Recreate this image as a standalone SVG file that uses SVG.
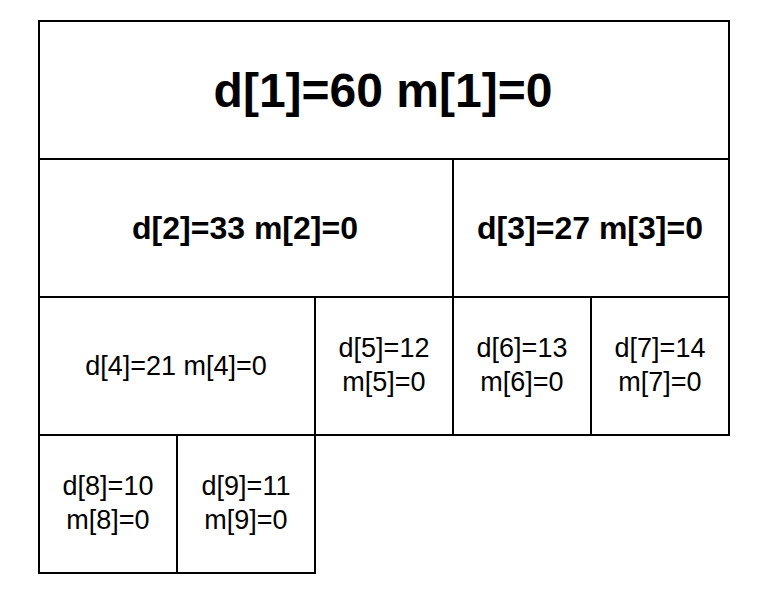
<svg xmlns="http://www.w3.org/2000/svg" width="763" height="608" viewBox="0 0 763 608">
<style>
.c{fill:#fff;stroke:#000;stroke-width:2}
text{font-family:"Liberation Sans",Arial,sans-serif;text-anchor:middle;fill:#000}
.t1{font-size:48px;font-weight:bold}
.t2{font-size:32px;font-weight:bold}
.t3{font-size:27px}
</style>
<rect width="763" height="608" fill="#fff"/>
<g id="n1"><rect class="c" x="39" y="21" width="690" height="138"/><text class="t1" x="383" y="107">d[1]=60 m[1]=0</text></g>
<g id="n2"><rect class="c" x="39" y="159" width="414" height="138"/><text class="t2" x="245" y="239">d[2]=33 m[2]=0</text></g>
<g id="n3"><rect class="c" x="453" y="159" width="276" height="138"/><text class="t2" x="590" y="239">d[3]=27 m[3]=0</text></g>
<g id="n4"><rect class="c" x="39" y="297" width="276" height="138"/><text class="t3" x="176" y="375">d[4]=21 m[4]=0</text></g>
<g id="n5"><rect class="c" x="315" y="297" width="138" height="138"/><text class="t3" x="384" y="357">d[5]=12</text><text class="t3" x="384" y="391">m[5]=0</text></g>
<g id="n6"><rect class="c" x="453" y="297" width="138" height="138"/><text class="t3" x="522" y="357">d[6]=13</text><text class="t3" x="522" y="391">m[6]=0</text></g>
<g id="n7"><rect class="c" x="591" y="297" width="138" height="138"/><text class="t3" x="660" y="357">d[7]=14</text><text class="t3" x="660" y="391">m[7]=0</text></g>
<g id="n8"><rect class="c" x="39" y="435" width="138" height="138"/><text class="t3" x="108" y="495">d[8]=10</text><text class="t3" x="108" y="529">m[8]=0</text></g>
<g id="n9"><rect class="c" x="177" y="435" width="138" height="138"/><text class="t3" x="246" y="495">d[9]=11</text><text class="t3" x="246" y="529">m[9]=0</text></g>
<g id="connectors"></g>
</svg>
